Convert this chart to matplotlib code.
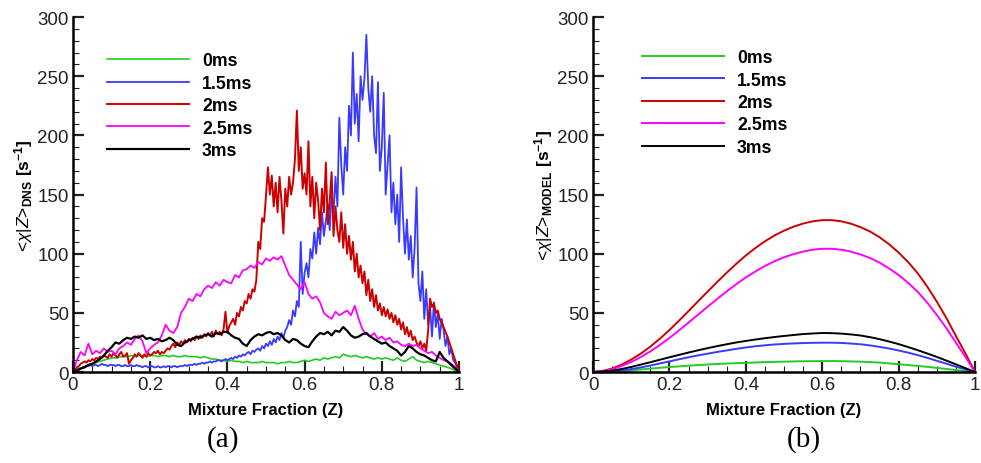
import numpy as np
import matplotlib
matplotlib.use('Agg')
import matplotlib.pyplot as plt
from matplotlib.ticker import MultipleLocator, FixedLocator

plt.rcParams['font.family'] = ['Liberation Sans', 'DejaVu Sans']
plt.rcParams['mathtext.fontset'] = 'custom'
plt.rcParams['mathtext.rm'] = 'Liberation Sans'
plt.rcParams['mathtext.it'] = 'Liberation Sans:italic'
plt.rcParams['mathtext.bf'] = 'Liberation Sans:bold'

# ---- DNS data (panel a) ----
labels = ['0ms', '1.5ms', '2ms', '2.5ms', '3ms']
colors = ['#22cc22', '#3a3aff', '#cc0000', '#ff00ff', '#000000']

z_fine = np.linspace(0, 1, 201)
z_coarse = np.linspace(0, 1, 101)

dns_0ms = [0, 2, 3, 5, 6, 7, 8, 9, 10, 11, 12,
           12, 13, 13, 13, 14, 13, 14, 14, 13, 14,
           14, 13, 14, 14, 13, 14, 13, 13, 14, 13,
           13, 13, 12, 13, 12, 11, 11, 10, 10, 9,
           10, 9, 9, 8, 9, 8, 8, 8, 9, 8,
           8, 8, 7, 8, 8, 9, 8, 8, 9, 10,
           9, 10, 11, 10, 12, 11, 12, 13, 12, 15,
           14, 13, 14, 13, 12, 13, 12, 11, 12, 11,
           12, 11, 10, 12, 10, 9, 11, 13, 10, 9,
           8, 9, 8, 7, 6, 5, 4, 3, 1, 0]

dns_15ms = [0, 1, 2, 3, 3, 4, 4, 5, 5, 6, 5, 6, 6, 5, 6, 7, 6, 6, 5, 6, 6,
            6, 5, 6, 6, 5, 5, 6, 5, 5, 6, 5, 5, 6, 5, 5, 4, 5, 5, 4, 5,
            5, 4, 4, 5, 4, 4, 5, 4, 5, 5, 4, 5, 5, 4, 5, 5, 5, 6, 5, 6,
            6, 6, 7, 6, 7, 7, 8, 7, 8, 8, 9, 8, 9, 9, 10, 10, 9, 10, 11, 10,
            11, 12, 11, 13, 12, 14, 13, 15, 14, 16, 17, 15, 18, 17, 19, 20, 18, 22, 20, 24,
            22, 26, 23, 28, 25, 30, 27, 33, 29, 35, 38, 44, 40, 52, 47, 60, 55, 110, 66, 84,
            92, 80, 104, 96, 118, 100, 122, 108, 135, 115, 128, 142, 120, 150, 135, 165, 140, 215, 175, 150,
            190, 170, 225, 200, 270, 210, 235, 195, 250, 230, 248, 285, 240, 220, 250, 200, 185, 245, 170, 190,
            236, 150, 175, 200, 135, 160, 125, 150, 110, 173, 130, 100, 129, 95, 115, 80, 105, 156, 75, 60,
            85, 45, 70, 40, 55, 30, 59, 38, 50, 28, 45, 36, 22, 30, 15, 20, 10, 8, 4, 0]

dns_2ms = [0, 2, 4, 5, 7, 8, 9, 8, 10, 9, 11, 10, 12, 11, 13, 12, 14, 13, 12, 15, 13,
           16, 14, 12, 15, 17, 13, 14, 16, 7, 10, 12, 15, 13, 16, 14, 12, 15, 13, 16, 14,
           15, 17, 16, 18, 15, 17, 16, 18, 20, 19, 22, 24, 21, 25, 23, 26, 24, 27, 25, 28,
           26, 29, 27, 30, 28, 31, 29, 32, 30, 33, 31, 34, 30, 35, 32, 34, 31, 36, 51, 33,
           39, 42, 45, 40, 50, 47, 55, 52, 60, 58, 66, 62, 70, 68, 78, 110, 104, 130, 127, 149,
           173, 150, 166, 140, 160, 135, 165, 145, 117, 155, 140, 165, 150, 160, 180, 221, 170, 190, 155, 168,
           150, 195, 140, 165, 130, 160, 145, 120, 155, 135, 177, 125, 145, 169, 115, 140, 120, 110, 135, 105,
           125, 100, 115, 95, 110, 85, 100, 80, 90, 75, 85, 65, 78, 60, 70, 55, 65, 52, 58, 48,
           55, 47, 53, 45, 50, 42, 48, 40, 45, 36, 42, 32, 38, 30, 35, 27, 30, 25, 22, 26,
           20, 24, 18, 35, 62, 55, 58, 50, 52, 45, 42, 38, 34, 30, 25, 20, 15, 10, 5, 0]

dns_25ms = [0, 10, 17, 14, 24, 15, 18, 16, 20, 17, 18,
            15, 20, 22, 25, 23, 28, 31, 26, 16, 20,
            23, 25, 31, 40, 35, 33, 38, 50, 55, 62,
            60, 66, 64, 70, 73, 71, 76, 73, 78, 76,
            75, 82, 80, 86, 87, 90, 88, 93, 91, 96,
            94, 97, 95, 98, 90, 82, 78, 74, 70, 76,
            66, 62, 64, 59, 50, 47, 45, 51, 48, 50,
            52, 48, 56, 45, 36, 32, 30, 33, 28, 30,
            27, 29, 25, 26, 23, 22, 24, 22, 23, 20,
            18, 16, 17, 14, 12, 10, 9, 7, 4, 0]

dns_3ms = [0, 1, 3, 4, 6, 7, 9, 11, 14, 18, 21,
           25, 24, 27, 29, 28, 30, 29, 31, 28, 29,
           27, 28, 26, 27, 29, 27, 23, 22, 25, 27,
           28, 30, 29, 31, 32, 30, 33, 32, 34, 34,
           31, 29, 28, 24, 22, 27, 30, 32, 31, 33,
           34, 32, 33, 31, 27, 25, 28, 27, 24, 22,
           21, 26, 30, 33, 32, 34, 31, 35, 34, 38,
           35, 31, 29, 30, 32, 33, 30, 28, 26, 24,
           25, 22, 20, 18, 14, 17, 22, 20, 17, 15,
           14, 12, 10, 9, 17, 12, 9, 6, 3, 0]

# ---- model data (panel b), Z = 0, 0.025, ..., 1 ----
z_model = np.linspace(0, 1, 41)
mod_0ms = [0, 0.1, 0.4, 0.9, 1.5, 2.2, 2.9, 3.6, 4.2, 4.8, 5.4, 5.9, 6.4, 6.8,
           7.2, 7.5, 7.8, 8.1, 8.4, 8.6, 8.8, 9.0, 9.1, 9.2, 9.3, 9.3, 9.2,
           9.0, 8.8, 8.4, 8.0, 7.3, 6.6, 5.9, 5.2, 4.4, 3.5, 2.6, 1.7, 0.8, 0]
mod_15ms = [0, 0.2, 0.5, 1.3, 2.4, 3.9, 5.5, 7.3, 9.0, 10.8, 12.5, 14.1, 15.5,
            17.0, 18.3, 19.6, 20.8, 21.8, 22.6, 23.3, 23.8, 24.2, 24.5, 24.7,
            24.8, 24.8, 24.6, 24.1, 23.5, 22.5, 21.3, 19.9, 18.2, 16.4, 14.3,
            12.0, 9.5, 7.1, 4.5, 2.3, 0]
mod_2ms = [0, 0.9, 3, 6.3, 10.5, 15.6, 21.5, 28.2, 35.5, 43.4, 51.5, 59.8, 68,
           76.1, 84, 91.5, 98.5, 104.8, 110.5, 115.4, 119.5, 122.9, 125.5,
           127.4, 128.4, 128.4, 127.4, 125.4, 122.5, 118.8, 114, 108.0, 101,
           92.9, 83.5, 72.2, 59.5, 45.7, 30.5, 15.7, 0]
mod_25ms = [0, 0.7, 2.4, 5.1, 8.5, 12.7, 17.4, 22.9, 28.8, 35.2, 41.8, 48.5,
            55.2, 61.8, 68.2, 74.3, 79.9, 85.0, 89.7, 93.6, 97.0, 99.7, 101.8,
            103.4, 104.2, 104.2, 103.4, 101.8, 99.4, 96.4, 92.5, 87.6, 82.0,
            75.4, 67.8, 58.6, 48.3, 37.1, 24.8, 12.7, 0]
mod_3ms = [0, 0.5, 1.2, 2.6, 4.3, 6.3, 8.3, 10.4, 12.5, 14.5, 16.5, 18.4, 20.2,
           21.9, 23.5, 25.0, 26.3, 27.5, 28.6, 29.6, 30.5, 31.3, 32.1, 32.6,
           33.0, 32.9, 32.5, 31.8, 30.9, 29.5, 27.8, 25.8, 23.6, 21.1, 18.5,
           15.7, 12.8, 9.7, 6.5, 3.3, 0]

x_ticks = [0, 0.2, 0.4, 0.6, 0.8, 1]
x_ticklabels = ['0', '0.2', '0.4', '0.6', '0.8', '1']


def style_axes(ax, leg_xy):
    ax.set_xlim(0, 1)
    ax.set_ylim(0, 300)
    ax.spines['top'].set_visible(False)
    ax.spines['right'].set_visible(False)
    ax.spines['left'].set_linewidth(1.8)
    ax.spines['bottom'].set_linewidth(1.8)
    ax.xaxis.set_major_locator(FixedLocator(x_ticks))
    ax.set_xticklabels(x_ticklabels)
    ax.xaxis.set_minor_locator(MultipleLocator(0.05))
    ax.yaxis.set_major_locator(MultipleLocator(50))
    ax.yaxis.set_minor_locator(MultipleLocator(10))
    ax.tick_params(which='both', direction='in', labelsize=13.5, colors='#222222')
    ax.tick_params(which='major', length=8, width=1.6, pad=3)
    ax.tick_params(which='minor', length=4, width=0.8)
    ax.set_xlabel('Mixture Fraction (Z)', fontsize=12, fontweight='bold', labelpad=6)
    ax.legend(loc='upper left', bbox_to_anchor=leg_xy, frameon=False,
              prop={'weight': 'bold', 'size': 12.7}, handlelength=4.65,
              handletextpad=0.74, labelspacing=0.31, borderpad=0, borderaxespad=0)


fig = plt.figure(figsize=(9.81, 4.64), dpi=100)
ax1 = fig.add_axes([0.0744, 0.196, 0.3935, 0.765])
ax2 = fig.add_axes([0.6045, 0.196, 0.3894, 0.765])

ax1.plot(z_coarse, dns_0ms, color=colors[0], lw=1.2, label=labels[0])
ax1.plot(z_fine, dns_15ms, color=colors[1], lw=1.3, label=labels[1])
ax1.plot(z_fine, dns_2ms, color=colors[2], lw=1.4, label=labels[2])
ax1.plot(z_coarse, dns_25ms, color=colors[3], lw=1.3, label=labels[3])
ax1.plot(z_coarse, dns_3ms, color=colors[4], lw=1.6, label=labels[4])
style_axes(ax1, (0.088, 0.901))
ax1.set_ylabel(r'<$\chi$|$Z$>$_{\mathbf{DNS}}$ $\mathbf{[s^{-1}]}$', fontsize=12.5, labelpad=2)

for vals, c, lab in zip([mod_0ms, mod_15ms, mod_2ms, mod_25ms, mod_3ms], colors, labels):
    ax2.plot(z_model, vals, color=c, lw=1.4, label=lab)
style_axes(ax2, (0.128, 0.910))
ax2.set_ylabel(r'<$\chi$|$Z$>$_{\mathbf{MODEL}}$ $\mathbf{[s^{-1}]}$', fontsize=12.5, labelpad=2)

fig.text(0.227, 0.052, '(a)', fontsize=21, family='Liberation Serif', ha='center', va='center')
fig.text(0.8195, 0.052, '(b)', fontsize=21, family='Liberation Serif', ha='center', va='center')

fig.savefig('out.png', dpi=100)
